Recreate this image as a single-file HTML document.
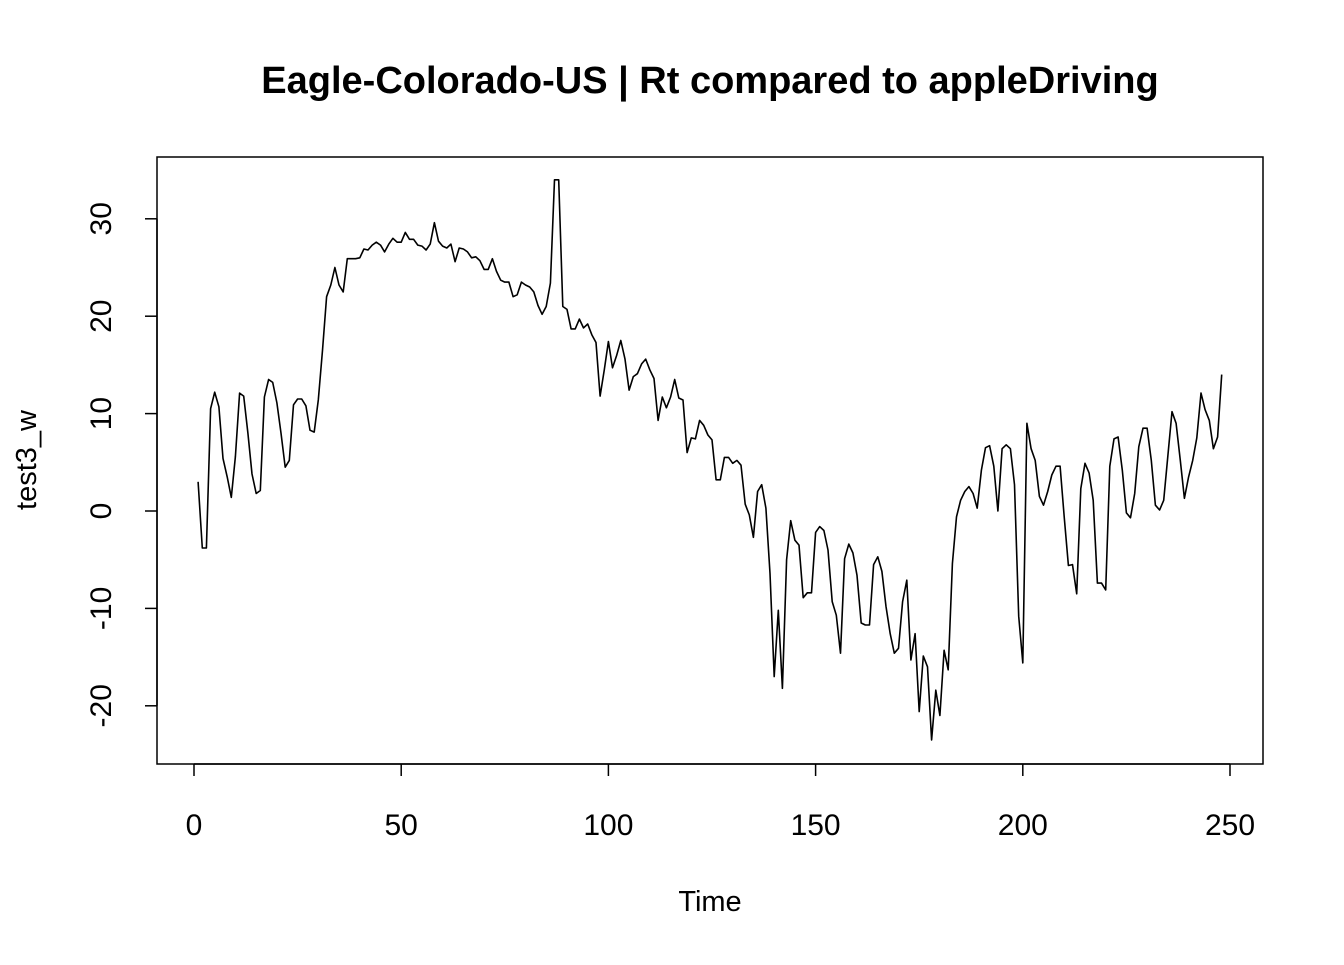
<!DOCTYPE html>
<html><head><meta charset="utf-8"><style>
body{margin:0;background:#fff}
svg text{font-family:"Liberation Sans",Arial,sans-serif;fill:#000}
</style></head><body>
<svg id="chart" width="1344" height="960" xmlns="http://www.w3.org/2000/svg">
<text x="710" y="93" font-size="38" font-weight="bold" text-anchor="middle">Eagle-Colorado-US | Rt compared to appleDriving</text>
<rect x="157" y="157" width="1106" height="607" fill="none" stroke="#000" stroke-width="1.5"/>
<text x="710" y="911" font-size="29" text-anchor="middle">Time</text>
<text transform="translate(36,460) rotate(-90)" font-size="29" text-anchor="middle">test3_w</text>
<g id="axes"></g>
<path id="series" fill="none" stroke="#000" stroke-width="1.6" stroke-linejoin="round"/>
</svg>
<script>
const xTicks = [0, 50, 100, 150, 200, 250];
const yTicks = [-20, -10, 0, 10, 20, 30];
const values = [3.0,-3.8,-3.8,10.5,12.2,10.7,5.4,3.5,1.4,5.6,12.1,11.8,8,3.8,1.8,2.1,11.7,13.5,13.2,11.1,8,4.5,5.2,10.9,11.5,11.5,10.8,8.3,8.1,11.4,16.5,22,23.2,25,23.2,22.5,25.9,25.9,25.9,26,26.9,26.8,27.3,27.6,27.3,26.6,27.4,28,27.6,27.6,28.6,27.9,27.9,27.3,27.2,26.8,27.4,29.6,27.7,27.2,27,27.4,25.6,27,26.9,26.6,26,26.1,25.7,24.8,24.8,25.9,24.6,23.7,23.5,23.5,22,22.2,23.5,23.2,23,22.5,21.1,20.2,21,23.4,34,34,21,20.7,18.7,18.7,19.7,18.8,19.2,18.1,17.3,11.8,14.5,17.4,14.7,16,17.5,15.6,12.4,13.8,14.1,15.1,15.6,14.5,13.6,9.3,11.7,10.6,11.7,13.5,11.6,11.4,6.0,7.5,7.4,9.3,8.8,7.8,7.3,3.2,3.2,5.5,5.5,4.9,5.2,4.7,0.7,-0.4,-2.7,2.0,2.7,0.3,-6.4,-17,-10.2,-18.2,-5,-1,-3,-3.5,-8.9,-8.4,-8.4,-2.2,-1.6,-2,-4,-9.3,-10.7,-14.6,-4.9,-3.4,-4.3,-6.6,-11.5,-11.7,-11.7,-5.5,-4.7,-6.2,-9.8,-12.6,-14.6,-14.1,-9.3,-7.1,-15.3,-12.6,-20.6,-14.9,-16,-23.5,-18.4,-21,-14.3,-16.3,-5.4,-0.6,1.1,2.0,2.5,1.8,0.3,4.2,6.5,6.7,4.6,0,6.4,6.8,6.4,2.7,-10.8,-15.6,9.0,6.4,5.2,1.5,0.6,2.0,3.7,4.6,4.6,-0.6,-5.6,-5.5,-8.5,2.3,4.9,3.9,1.1,-7.4,-7.4,-8.1,4.6,7.4,7.6,4.2,-0.2,-0.7,1.8,6.6,8.5,8.5,5.2,0.6,0.1,1.1,5.6,10.2,9.0,5.2,1.3,3.5,5.2,7.5,12.1,10.4,9.3,6.4,7.6,14.0];
const startTime = 1;
const X = t => 194 + t * 4.144;
const Y = v => 511 - v * 9.74;
const NS = "http://www.w3.org/2000/svg";
const axes = document.getElementById('axes');
function mk(tag, attrs){const e=document.createElementNS(NS,tag);for(const k in attrs)e.setAttribute(k,attrs[k]);axes.appendChild(e);return e;}
const xl = mk('line',{x1:X(xTicks[0]),x2:X(xTicks[xTicks.length-1]),y1:764,y2:764,stroke:'#000','stroke-width':1.5});


xTicks.forEach(t=>{
  const l=mk('line',{x1:X(t),x2:X(t),y1:764,y2:776,stroke:'#000','stroke-width':1.5});
  
  
  const tx=mk('text',{x:X(t),y:835,'font-size':30,'text-anchor':'middle'});
  tx.textContent=t;
  
  
});
const yl = mk('line',{x1:157,x2:157,y1:Y(yTicks[0]),y2:Y(yTicks[yTicks.length-1]),stroke:'#000','stroke-width':1.5});


yTicks.forEach(v=>{
  const l=mk('line',{x1:145,x2:157,y1:Y(v),y2:Y(v),stroke:'#000','stroke-width':1.5});
  
  
  const tx=mk('text',{transform:`translate(111,${Y(v)}) rotate(-90)`,'font-size':30,'text-anchor':'middle'});
  tx.textContent=v;
  
  
});
document.getElementById('series').setAttribute('d', values.map((v,i)=>(i?'L':'M')+X(startTime+i).toFixed(1)+' '+Y(v).toFixed(1)).join(' '));
</script>
</body></html>
